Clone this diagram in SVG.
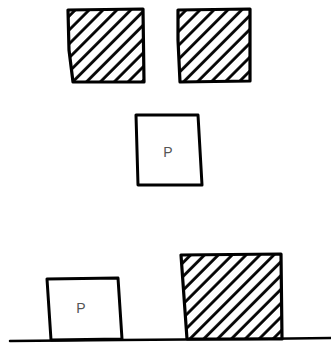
<svg xmlns="http://www.w3.org/2000/svg" width="331" height="347" viewBox="0 0 331 347">
<style>
.box{fill:#fff;stroke:#000;stroke-width:3;stroke-linejoin:round;stroke-linecap:round}
.hb{fill:url(#hatch);stroke:#000;stroke-width:3.2;stroke-linejoin:round;stroke-linecap:round}
.lbl{font-family:"Liberation Sans",Arial,sans-serif;font-size:14px;fill:#555;text-anchor:middle}
.ground{fill:none;stroke:#000;stroke-width:2.5;stroke-linecap:round}
</style>
<defs>
<pattern id="hatch" patternUnits="userSpaceOnUse" width="9.8" height="9.8" patternTransform="rotate(45)">
<rect width="9.8" height="9.8" fill="#fff"/>
<line x1="1.5" y1="0" x2="1.5" y2="9.8" stroke="#000" stroke-width="2.8"/>
</pattern>
</defs>
<rect width="331" height="347" fill="#fff"/>
<g id="hatched-top-left">
<path class="hb" d="M68,10 L143,9 L144,82 L73,82 L69,50 Z"/>
</g>
<g id="hatched-top-right">
<path class="hb" d="M178,10 L250,9 L250,81 L180,82 L178,40 Z"/>
</g>
<g id="p-middle">
<path class="box" d="M136,115 L198,115 L202,185 L138,185 Z"/>
<text class="lbl" x="168" y="157">P</text>
</g>
<g id="p-ground">
<path class="box" d="M47,279 L118,278 L122,339 L51,340 Z"/>
<text class="lbl" x="81" y="313">P</text>
</g>
<g id="hatched-ground">
<path class="hb" d="M181,255 L281,254 L282,339 L187,339 Z"/>
</g>
<path class="ground" d="M10,341 L120,340 L250,339 L331,338"/>
</svg>
